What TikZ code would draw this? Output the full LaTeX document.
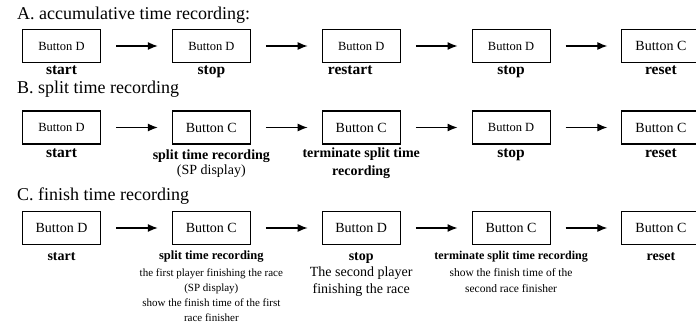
\documentclass[tikz,border=0pt]{standalone}
\usepackage{fontspec}
\setmainfont{Liberation Serif}
\usetikzlibrary{positioning,arrows.meta}

\begin{document}
\begin{tikzpicture}[x=1pt,y=-1pt,
  btn/.style={draw,line width=1.1pt,minimum width=78pt,minimum height=33pt,inner sep=0pt,font=\fontsize{14}{16}\selectfont},
  btnsm/.style={btn,font=\fontsize{12.5}{15}\selectfont},
  lbl/.style={inner sep=0pt,align=center,font=\bfseries\fontsize{15.5}{18}\selectfont},
  lblmid/.style={inner sep=0pt,align=center,font=\fontsize{14}{15}\selectfont},
  lblsm/.style={inner sep=0pt,align=center,font=\fontsize{11}{15}\selectfont},
  ttl/.style={anchor=base west,inner sep=0pt,font=\fontsize{18}{20}\selectfont},
  arr/.style={line width=1.2pt,-{Latex[length=10pt,width=8pt]},shorten <=15pt,shorten >=14pt}]
\useasboundingbox (0,0) rectangle (696,329);

% A. accumulative time recording
\node[ttl] (ta) at (17,20) {A. accumulative time recording:};
\node[btnsm] (a1) at (61.5,46) {Button D};
\node[btnsm, right=70.75pt of a1] (a2) {Button D};
\node[btnsm, right=70.75pt of a2] (a3) {Button D};
\node[btnsm, right=70.75pt of a3] (a4) {Button D};
\node[btn, right=70.75pt of a4] (a5) {Button C};
\node[lbl, below=3pt of a1] (a1l) {start};
\node[lbl, below=3pt of a2] (a2l) {stop};
\node[lbl, below=3pt of a3, xshift=-11pt] (a3l) {restart};
\node[lbl, below=3pt of a4] (a4l) {stop};
\node[lbl, below=3pt of a5] (a5l) {reset};
\draw[arr] (a1) -- (a2);
\draw[arr] (a2) -- (a3);
\draw[arr] (a3) -- (a4);
\draw[arr] (a4) -- (a5);

% B. split time recording
\node[ttl] (tb) at (17,93) {B. split time recording};
\node[btnsm] (b1) at (61.5,127.5) {Button D};
\node[btn, right=70.75pt of b1] (b2) {Button C};
\node[btn, right=70.75pt of b2] (b3) {Button C};
\node[btnsm, right=70.75pt of b3] (b4) {Button D};
\node[btn, right=70.75pt of b4] (b5) {Button C};
\node[lbl, below=4pt of b1] (b1l) {start};
\node[lblmid, below=5pt of b2] (b2l) {{\bfseries split time recording}\\(SP display)};
\node[lblmid, below=3pt of b3, font=\bfseries\fontsize{14}{18}\selectfont] (b3l) {terminate split time\\recording};
\node[lbl, below=4pt of b4] (b4l) {stop};
\node[lbl, below=4pt of b5] (b5l) {reset};
\draw[arr] (b1) -- (b2);
\draw[arr] (b2) -- (b3);
\draw[arr] (b3) -- (b4);
\draw[arr] (b4) -- (b5);

% C. finish time recording
\node[ttl] (tc) at (17,200) {C. finish time recording};
\node[btn] (c1) at (61.5,228) {Button D};
\node[btn, right=70.75pt of c1] (c2) {Button C};
\node[btn, right=70.75pt of c2] (c3) {Button D};
\node[btn, right=70.75pt of c3] (c4) {Button C};
\node[btn, right=70.75pt of c4] (c5) {Button C};
\node[lbl, below=7pt of c1, font=\bfseries\fontsize{14}{16}\selectfont] (c1l) {start};
\node[lblsm, below=6pt of c2] (c2l) {{\bfseries\fontsize{12.5}{15}\selectfont split time recording}\\[2pt]the first player finishing the race\\(SP display)\\show the finish time of the first\\race finisher};
\node[lblmid, below=7pt of c3, font=\fontsize{14}{16.5}\selectfont] (c3l) {{\bfseries stop}\\The second player\\finishing the race};
\node[lblsm, below=6pt of c4, font=\fontsize{11.5}{16.5}\selectfont] (c4l) {{\bfseries\fontsize{12}{15}\selectfont terminate split time recording}\\show the finish time of the\\second race finisher};
\node[lbl, below=7pt of c5, font=\bfseries\fontsize{14}{16}\selectfont] (c5l) {reset};
\draw[arr] (c1) -- (c2);
\draw[arr] (c2) -- (c3);
\draw[arr] (c3) -- (c4);
\draw[arr] (c4) -- (c5);
\end{tikzpicture}
\end{document}
